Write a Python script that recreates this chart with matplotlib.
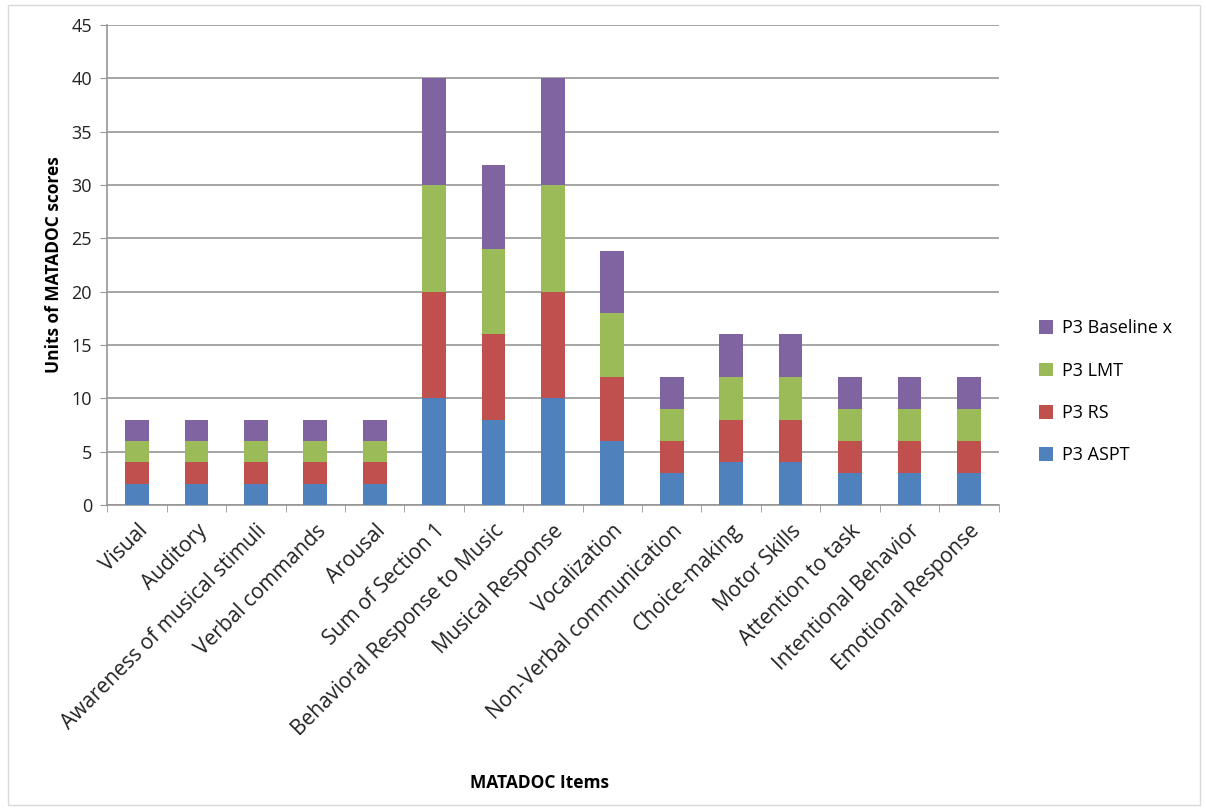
import numpy as np
import matplotlib.pyplot as plt
from matplotlib.patches import Rectangle

plt.rcParams['font.family'] = ['Open Sans', 'DejaVu Sans']

# 数据
items = ['Visual', 'Auditory', 'Awareness of musical stimuli', 'Verbal commands',
         'Arousal', 'Sum of Section 1', 'Behavioral Response to Music',
         'Musical Response', 'Vocalization', 'Non-Verbal communication',
         'Choice-making', 'Motor Skills', 'Attention to task',
         'Intentional Behavior', 'Emotional Response']
p3_aspt = [2, 2, 2, 2, 2, 10, 8, 10, 6, 3, 4, 4, 3, 3, 3]
p3_rs = [2, 2, 2, 2, 2, 10, 8, 10, 6, 3, 4, 4, 3, 3, 3]
p3_lmt = [2, 2, 2, 2, 2, 10, 8, 10, 6, 3, 4, 4, 3, 3, 3]
p3_baseline = [2, 2, 2, 2, 2, 10, 7.9, 10, 5.8, 3, 4, 4, 3, 3, 3]

series = [
    ('P3 ASPT', p3_aspt, '#4F81BD'),
    ('P3 RS', p3_rs, '#C0504D'),
    ('P3 LMT', p3_lmt, '#9BBB59'),
    ('P3 Baseline x', p3_baseline, '#8064A2'),
]

fig = plt.figure(figsize=(12.06, 8.08), dpi=100)
ax = fig.add_axes([0.089, 0.375, 0.739, 0.594])

# 外框
fig.patches.append(Rectangle((0.007, 0.004), 0.988, 0.99, transform=fig.transFigure,
                             fill=False, edgecolor='#D9D9D9', linewidth=1))

x = np.arange(len(items))
bottom = np.zeros(len(items))
handles = []
for name, vals, color in series:
    vals = np.array(vals, dtype=float)
    h = ax.bar(x, vals, width=0.4, bottom=bottom, color=color, label=name, zorder=3)
    handles.append(h)
    bottom += vals

ax.set_xlim(-0.5, len(items) - 0.5)
ax.set_ylim(0, 45)
ax.set_yticks(np.arange(0, 46, 5))
ax.yaxis.grid(True, color='#969696', linewidth=1.2, zorder=0)
ax.set_axisbelow(True)

ax.set_xticks(x)
ax.set_xticklabels(items, rotation=45, ha='right', rotation_mode='anchor', fontsize=15,
                   color='#222222')
ax.set_xticks(np.arange(-0.5, len(items), 1), minor=True)
ax.tick_params(axis='x', which='major', length=0, pad=11)
ax.tick_params(axis='x', which='minor', length=5, color='#969696', direction='out')
ax.tick_params(axis='y', length=5, color='#969696', labelsize=13, pad=6, labelcolor='#222222')

for s in ['top', 'right']:
    ax.spines[s].set_visible(False)
for s in ['left', 'bottom']:
    ax.spines[s].set_color('#969696')
    ax.spines[s].set_linewidth(1.2)

ax.set_ylabel('Units of MATADOC scores', fontsize=12.5, fontweight='bold', labelpad=6)
fig.text(0.447, 0.025, 'MATADOC Items', fontsize=12.5, fontweight='bold', ha='center')

leg = fig.legend(handles[::-1], [s[0] for s in series][::-1], loc='center left',
                 bbox_to_anchor=(0.848, 0.515), frameon=False, fontsize=13,
                 handlelength=0.8, handleheight=0.8, labelspacing=1.35, handletextpad=0.5)

fig.savefig('out.png', dpi=100)
